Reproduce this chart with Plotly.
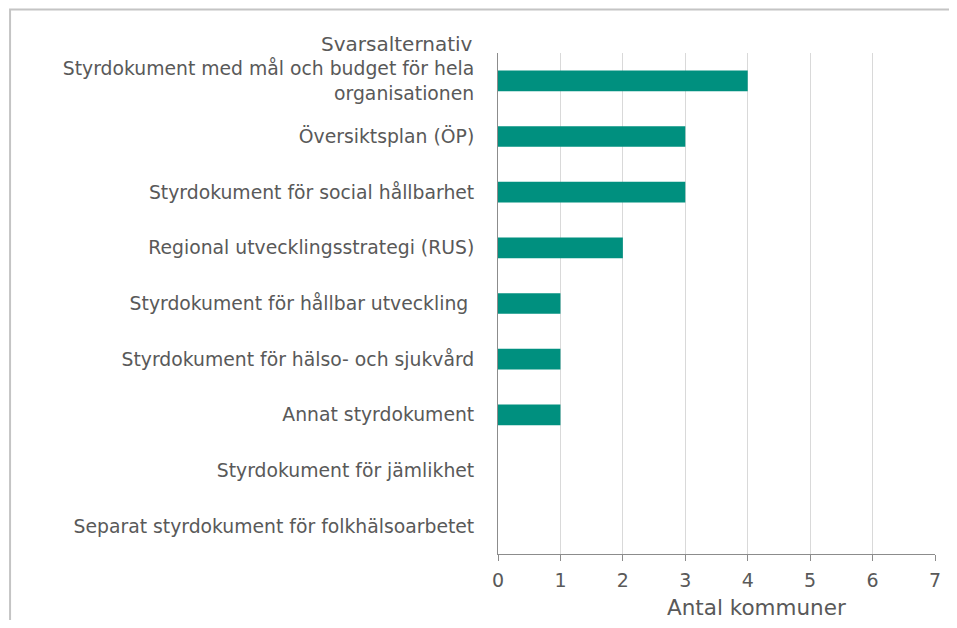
import plotly.graph_objects as go

categories = [
    "Styrdokument med mål och budget för hela<br>organisationen",
    "Översiktsplan (ÖP)",
    "Styrdokument för social hållbarhet",
    "Regional utvecklingsstrategi (RUS)",
    "Styrdokument för hållbar utveckling ",
    "Styrdokument för hälso- och sjukvård",
    "Annat styrdokument",
    "Styrdokument för jämlikhet",
    "Separat styrdokument för folkhälsoarbetet",
]
values = [4, 3, 3, 2, 1, 1, 1, 0, 0]
x_ticks = [0, 1, 2, 3, 4, 5, 6, 7]

# page body has an 8px margin; work in reference pixel coordinates minus that offset
OFF = 8
W, H = 957 - 2 * OFF, 628 - 2 * OFF
px_left, px_right, px_top, px_bottom = 497.5, 935, 53, 554
L = px_left - OFF
R = W - (px_right - OFF)
T = px_top - OFF
B = H - (px_bottom - OFF)
pw = W - L - R
ph = H - T - B


def pxx(x):
    return (x - px_left) / pw


def pxy(y):
    return (px_bottom - y) / ph


FONT = "DejaVu Sans"
TXT = "#595959"

fig = go.Figure(go.Bar(
    x=values, y=categories, orientation="h",
    marker=dict(color="#00907F", line=dict(width=0)),
    width=0.37,
))

fig.update_layout(
    width=W, height=H,
    margin=dict(l=L, r=R, t=T, b=B, autoexpand=False),
    paper_bgcolor="white", plot_bgcolor="white",
    showlegend=False,
    font=dict(family=FONT, size=18, color=TXT),
    xaxis=dict(
        range=[0, 7], tickvals=x_ticks, showgrid=True, gridcolor="#d9d9d9", gridwidth=1,
        showline=True, linecolor="#8c8c8c", linewidth=1,
        ticks="outside", ticklen=6, tickcolor="#8c8c8c", ticklabelstandoff=3,
        tickfont=dict(family=FONT, size=19, color=TXT), zeroline=False,
    ),
    yaxis=dict(
        categoryorder="array", categoryarray=categories[::-1],
        showline=True, linecolor="#8c8c8c", linewidth=1,
        ticks="", ticklabelstandoff=19, showgrid=False,
        tickfont=dict(family=FONT, size=18.8, color=TXT),
    ),
)

fig.add_annotation(text="Svarsalternativ", xref="paper", yref="paper",
                   x=pxx(474), y=pxy(44), xanchor="right", yanchor="middle",
                   showarrow=False, font=dict(family=FONT, size=20, color=TXT))
fig.add_annotation(text="Antal kommuner", xref="paper", yref="paper",
                   x=pxx(756), y=pxy(607), xanchor="center", yanchor="middle",
                   showarrow=False, font=dict(family=FONT, size=21.5, color=TXT))

fig.add_shape(type="rect", xref="paper", yref="paper",
              x0=pxx(9), x1=2, y0=-1, y1=pxy(9.5),
              line=dict(color="#c4c4c4", width=2), fillcolor="rgba(0,0,0,0)", layer="below")

fig.write_html("out.html")
